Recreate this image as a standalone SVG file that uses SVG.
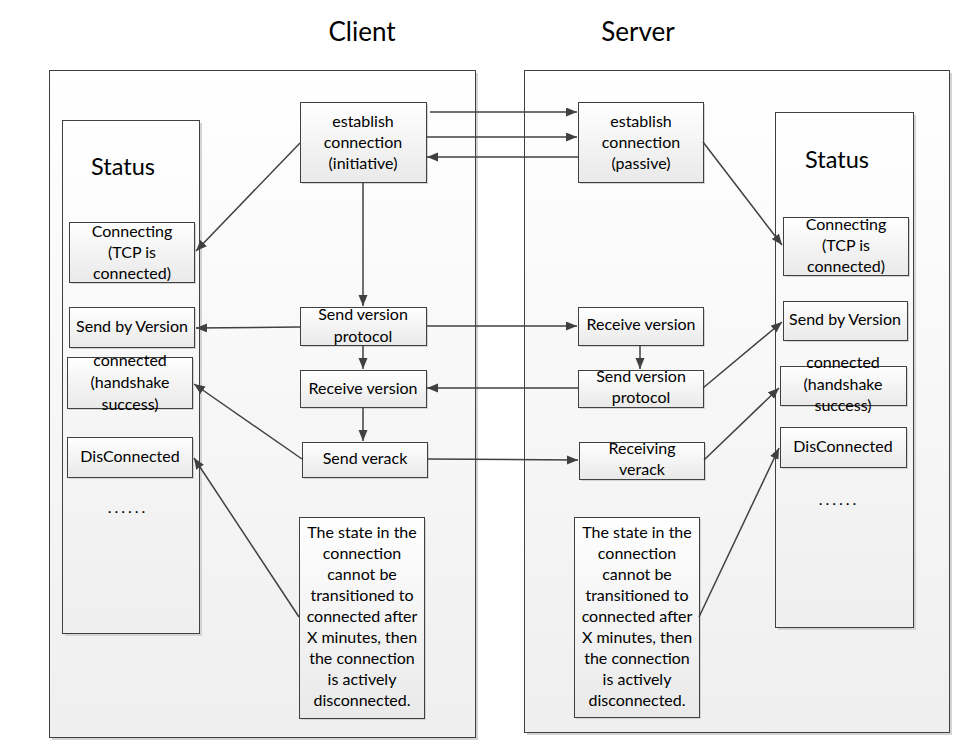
<svg xmlns="http://www.w3.org/2000/svg" width="978" height="756" viewBox="0 0 978 756">
<defs>
<linearGradient id="gPanel" x1="0" y1="0" x2="0" y2="1"><stop offset="0" stop-color="#ffffff"/><stop offset="1" stop-color="#efefef"/></linearGradient>
<linearGradient id="gBox" x1="0" y1="0" x2="0" y2="1"><stop offset="0" stop-color="#ffffff"/><stop offset="1" stop-color="#e9e9e9"/></linearGradient>
<marker id="arr" markerUnits="userSpaceOnUse" markerWidth="12" markerHeight="10" refX="11" refY="4.5" orient="auto"><path d="M0,0 L11,4.5 L0,9 z" fill="#404040"/></marker>
</defs>
<style>
.panel{fill:url(#gPanel);stroke:#404040;stroke-width:1}
.col{fill:url(#gPanel);stroke:#404040;stroke-width:1}
.box{fill:url(#gBox);stroke:#404040;stroke-width:1}
.sh{fill:#d4d4d4}
text{font-family:Lato,"Liberation Sans",sans-serif;fill:#000;text-anchor:middle}
.t{font-size:16px}
.dots{font-size:16px;letter-spacing:3px}
.st{font-size:23.5px}
.ti{font-size:26px}
.c line{stroke:#404040;stroke-width:1.5;marker-end:url(#arr)}
</style>
<rect width="978" height="756" fill="#ffffff"/>
<text class="ti" x="362" y="41">Client</text>
<text class="ti" x="638" y="41">Server</text>

<g id="client-panel"><rect class="sh" x="52" y="73" width="426" height="667"/><rect class="panel" x="49.5" y="70.5" width="426" height="667"/></g>
<g id="server-panel"><rect class="sh" x="527" y="73" width="425" height="662"/><rect class="panel" x="524.5" y="70.5" width="425" height="662"/></g>

<g id="client-status"><rect class="sh" x="65" y="123" width="137" height="513"/><rect class="col" x="62.5" y="120.5" width="137" height="513"/><text class="st" x="123" y="175">Status</text><text class="dots" x="128" y="513">......</text></g>
<g id="server-status"><rect class="sh" x="778" y="115" width="138" height="515"/><rect class="col" x="775.5" y="112.5" width="138" height="515"/><text class="st" x="837" y="168">Status</text><text class="dots" x="839" y="505">......</text></g>

<g id="c-connecting"><rect class="sh" x="71" y="224" width="125" height="60"/><rect class="box" x="69.5" y="222.5" width="125" height="60"/><text class="t" x="132"><tspan x="132" y="237">Connecting</tspan><tspan x="132" y="258">(TCP is</tspan><tspan x="132" y="279">connected)</tspan></text></g>
<g id="c-sendby"><rect class="sh" x="71" y="309" width="125" height="40"/><rect class="box" x="69.5" y="307.5" width="125" height="40"/><text class="t" x="132" y="332">Send by Version</text></g>
<g id="c-connected"><rect class="sh" x="69" y="359" width="125" height="51"/><rect class="box" x="67.5" y="357.5" width="125" height="51"/><text class="t" x="130"><tspan x="130" y="366">connected</tspan><tspan x="130" y="388">(handshake</tspan><tspan x="130" y="410">success)</tspan></text></g>
<g id="c-disconnected"><rect class="sh" x="69" y="439" width="125" height="40"/><rect class="box" x="67.5" y="437.5" width="125" height="40"/><text class="t" x="130" y="462">DisConnected</text></g>

<g id="c-establish"><rect class="sh" x="302" y="104" width="126" height="80"/><rect class="box" x="300.5" y="102.5" width="126" height="80"/><text class="t" x="363"><tspan x="363" y="127">establish</tspan><tspan x="363" y="148">connection</tspan><tspan x="363" y="169">(initiative)</tspan></text></g>
<g id="c-sendversion"><rect class="sh" x="302" y="309" width="126" height="38"/><rect class="box" x="300.5" y="307.5" width="126" height="38"/><text class="t" x="363"><tspan x="363" y="320">Send version</tspan><tspan x="363" y="342">protocol</tspan></text></g>
<g id="c-receiveversion"><rect class="sh" x="302" y="372" width="126" height="37"/><rect class="box" x="300.5" y="370.5" width="126" height="37"/><text class="t" x="363" y="394">Receive version</text></g>
<g id="c-sendverack"><rect class="sh" x="304" y="444" width="125" height="35"/><rect class="box" x="302.5" y="442.5" width="125" height="35"/><text class="t" x="365" y="464">Send verack</text></g>
<g id="c-note"><rect class="sh" x="301" y="519" width="125" height="201"/><rect class="box" x="299.5" y="517.5" width="125" height="201"/><text class="t" x="362"><tspan x="362" y="538">The state in the</tspan><tspan x="362" y="559">connection</tspan><tspan x="362" y="580">cannot be</tspan><tspan x="362" y="601">transitioned to</tspan><tspan x="362" y="622">connected after</tspan><tspan x="362" y="643">X minutes, then</tspan><tspan x="362" y="664">the connection</tspan><tspan x="362" y="685">is actively</tspan><tspan x="362" y="706">disconnected.</tspan></text></g>

<g id="s-establish"><rect class="sh" x="580" y="104" width="125" height="80"/><rect class="box" x="578.5" y="102.5" width="125" height="80"/><text class="t" x="641"><tspan x="641" y="127">establish</tspan><tspan x="641" y="148">connection</tspan><tspan x="641" y="169">(passive)</tspan></text></g>
<g id="s-receiveversion"><rect class="sh" x="580" y="309" width="125" height="38"/><rect class="box" x="578.5" y="307.5" width="125" height="38"/><text class="t" x="641" y="330">Receive version</text></g>
<g id="s-sendversion"><rect class="sh" x="580" y="372" width="125" height="37"/><rect class="box" x="578.5" y="370.5" width="125" height="37"/><text class="t" x="641"><tspan x="641" y="382">Send version</tspan><tspan x="641" y="403">protocol</tspan></text></g>
<g id="s-receivingverack"><rect class="sh" x="581" y="444" width="125" height="37"/><rect class="box" x="579.5" y="442.5" width="125" height="37"/><text class="t" x="642"><tspan x="642" y="454">Receiving</tspan><tspan x="642" y="475">verack</tspan></text></g>
<g id="s-note"><rect class="sh" x="576" y="519" width="125" height="200"/><rect class="box" x="574.5" y="517.5" width="125" height="200"/><text class="t" x="637"><tspan x="637" y="538">The state in the</tspan><tspan x="637" y="559">connection</tspan><tspan x="637" y="580">cannot be</tspan><tspan x="637" y="601">transitioned to</tspan><tspan x="637" y="622">connected after</tspan><tspan x="637" y="643">X minutes, then</tspan><tspan x="637" y="664">the connection</tspan><tspan x="637" y="685">is actively</tspan><tspan x="637" y="706">disconnected.</tspan></text></g>

<g id="s-connecting"><rect class="sh" x="785" y="219" width="125" height="58"/><rect class="box" x="783.5" y="217.5" width="125" height="58"/><text class="t" x="846"><tspan x="846" y="230">Connecting</tspan><tspan x="846" y="251">(TCP is</tspan><tspan x="846" y="272">connected)</tspan></text></g>
<g id="s-sendby"><rect class="sh" x="785" y="303" width="124" height="39"/><rect class="box" x="783.5" y="301.5" width="124" height="39"/><text class="t" x="845" y="325">Send by Version</text></g>
<g id="s-connected"><rect class="sh" x="782" y="368" width="126" height="39"/><rect class="box" x="780.5" y="366.5" width="126" height="39"/><text class="t" x="843"><tspan x="843" y="368">connected</tspan><tspan x="843" y="390">(handshake</tspan><tspan x="843" y="411">success)</tspan></text></g>
<g id="s-disconnected"><rect class="sh" x="782" y="429" width="126" height="40"/><rect class="box" x="780.5" y="427.5" width="126" height="40"/><text class="t" x="843" y="452">DisConnected</text></g>

<g id="connectors" class="c">
<line x1="430" y1="112" x2="577" y2="112"/>
<line x1="426" y1="137" x2="577" y2="137"/>
<line x1="578" y1="157" x2="427" y2="157"/>
<line x1="300" y1="143" x2="196" y2="251"/>
<line x1="703" y1="142" x2="782" y2="245"/>
<line x1="363" y1="182" x2="363" y2="306"/>
<line x1="300" y1="327" x2="196" y2="328"/>
<line x1="426" y1="326" x2="577" y2="326"/>
<line x1="363" y1="345" x2="363" y2="369"/>
<line x1="578" y1="388" x2="427" y2="388"/>
<line x1="363" y1="407" x2="363" y2="441"/>
<line x1="302" y1="459" x2="194" y2="384"/>
<line x1="427" y1="459" x2="578" y2="460"/>
<line x1="640" y1="345" x2="640" y2="369"/>
<line x1="703" y1="388" x2="782" y2="322"/>
<line x1="704" y1="460" x2="779" y2="388"/>
<line x1="299" y1="617" x2="194" y2="458"/>
<line x1="699" y1="617" x2="779" y2="448"/>
</g>
</svg>
